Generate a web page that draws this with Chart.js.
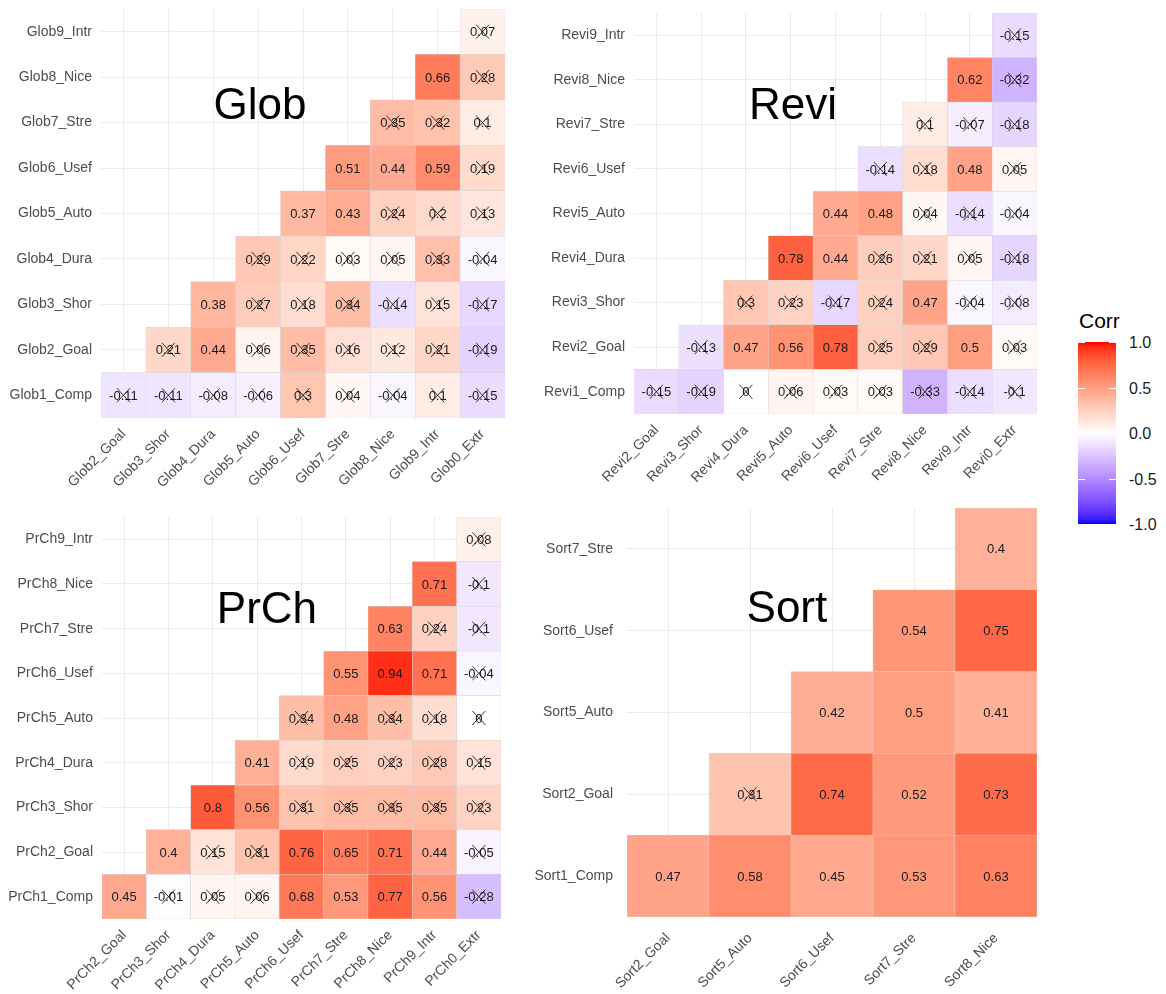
<!DOCTYPE html>
<html>
<head>
<meta charset="utf-8">
<script src="https://cdn.jsdelivr.net/npm/chart.js@4/dist/chart.umd.min.js"></script>
<style>
  body { margin: 0; background: #fff; width: 1166px; height: 994px; position: relative; overflow: hidden;
         font-family: "Liberation Sans", Arial, sans-serif; }
  .panel { position: absolute; }
  #legend { position: absolute; left: 1078px; top: 300px; }
  #legendTitle { position: absolute; left: 1px; top: 9px; font-size: 21px; color: #000; white-space: nowrap; }
  #legendBar { position: absolute; left: 0; top: 42px; width: 38px; height: 182px; }
  .lab { position: absolute; left: 51px; font-size: 16px; color: #1a1a1a; line-height: 16px; white-space: nowrap; }
  .tick { position: absolute; width: 7px; height: 1px; background: #fff; }
</style>
</head>
<body>
<div class="panel" style="left:0;top:0"><canvas id="glob" width="520" height="500"></canvas></div>
<div class="panel" style="left:540px;top:0"><canvas id="revi" width="500" height="500"></canvas></div>
<div class="panel" style="left:0;top:505px"><canvas id="prch" width="520" height="489"></canvas></div>
<div class="panel" style="left:535px;top:495px"><canvas id="sort" width="505" height="499"></canvas></div>
<div id="legend">
  <div id="legendTitle">Corr</div>
  <div id="legendBar"></div>
</div>
<script>
// ---- data: rows are y labels from bottom to top, one entry per x column, null = empty cell
const globCols = ['Glob2_Goal', 'Glob3_Shor', 'Glob4_Dura', 'Glob5_Auto', 'Glob6_Usef', 'Glob7_Stre', 'Glob8_Nice', 'Glob9_Intr', 'Glob0_Extr'];
const globRows = ['Glob1_Comp', 'Glob2_Goal', 'Glob3_Shor', 'Glob4_Dura', 'Glob5_Auto', 'Glob6_Usef', 'Glob7_Stre', 'Glob8_Nice', 'Glob9_Intr'];
const globVals = [
  [-0.11, -0.11, -0.08, -0.06, 0.3, 0.04, -0.04, 0.1, -0.15],
  [null, 0.21, 0.44, 0.06, 0.35, 0.16, 0.12, 0.21, -0.19],
  [null, null, 0.38, 0.27, 0.18, 0.34, -0.14, 0.15, -0.17],
  [null, null, null, 0.29, 0.22, 0.03, 0.05, 0.33, -0.04],
  [null, null, null, null, 0.37, 0.43, 0.24, 0.2, 0.13],
  [null, null, null, null, null, 0.51, 0.44, 0.59, 0.19],
  [null, null, null, null, null, null, 0.35, 0.32, 0.1],
  [null, null, null, null, null, null, null, 0.66, 0.28],
  [null, null, null, null, null, null, null, null, 0.07]
];
// 1 = not significant, crossed out
const globCross = [
  [1, 1, 1, 1, 1, 1, 1, 1, 1],
  [0, 1, 0, 1, 1, 1, 1, 1, 1],
  [0, 0, 0, 1, 1, 1, 1, 1, 1],
  [0, 0, 0, 1, 1, 1, 1, 1, 1],
  [0, 0, 0, 0, 0, 0, 1, 1, 1],
  [0, 0, 0, 0, 0, 0, 0, 0, 1],
  [0, 0, 0, 0, 0, 0, 1, 1, 1],
  [0, 0, 0, 0, 0, 0, 0, 0, 1],
  [0, 0, 0, 0, 0, 0, 0, 0, 1]
];

const reviCols = ['Revi2_Goal', 'Revi3_Shor', 'Revi4_Dura', 'Revi5_Auto', 'Revi6_Usef', 'Revi7_Stre', 'Revi8_Nice', 'Revi9_Intr', 'Revi0_Extr'];
const reviRows = ['Revi1_Comp', 'Revi2_Goal', 'Revi3_Shor', 'Revi4_Dura', 'Revi5_Auto', 'Revi6_Usef', 'Revi7_Stre', 'Revi8_Nice', 'Revi9_Intr'];
const reviVals = [
  [-0.15, -0.19, 0, 0.06, 0.03, 0.03, -0.33, -0.14, -0.1],
  [null, -0.13, 0.47, 0.56, 0.78, 0.25, 0.29, 0.5, 0.03],
  [null, null, 0.3, 0.23, -0.17, 0.24, 0.47, -0.04, -0.08],
  [null, null, null, 0.78, 0.44, 0.26, 0.21, 0.05, -0.18],
  [null, null, null, null, 0.44, 0.48, 0.04, -0.14, -0.04],
  [null, null, null, null, null, -0.14, 0.18, 0.48, 0.05],
  [null, null, null, null, null, null, 0.1, -0.07, -0.18],
  [null, null, null, null, null, null, null, 0.62, -0.32],
  [null, null, null, null, null, null, null, null, -0.15]
];
const reviCross = [
  [1, 1, 1, 1, 1, 1, 1, 1, 1],
  [0, 1, 0, 0, 0, 1, 1, 0, 1],
  [0, 0, 1, 1, 1, 1, 0, 1, 1],
  [0, 0, 0, 0, 0, 1, 1, 1, 1],
  [0, 0, 0, 0, 0, 0, 1, 1, 1],
  [0, 0, 0, 0, 0, 1, 1, 0, 1],
  [0, 0, 0, 0, 0, 0, 1, 1, 1],
  [0, 0, 0, 0, 0, 0, 0, 0, 1],
  [0, 0, 0, 0, 0, 0, 0, 0, 1]
];

const prchCols = ['PrCh2_Goal', 'PrCh3_Shor', 'PrCh4_Dura', 'PrCh5_Auto', 'PrCh6_Usef', 'PrCh7_Stre', 'PrCh8_Nice', 'PrCh9_Intr', 'PrCh0_Extr'];
const prchRows = ['PrCh1_Comp', 'PrCh2_Goal', 'PrCh3_Shor', 'PrCh4_Dura', 'PrCh5_Auto', 'PrCh6_Usef', 'PrCh7_Stre', 'PrCh8_Nice', 'PrCh9_Intr'];
const prchVals = [
  [0.45, -0.01, 0.05, 0.06, 0.68, 0.53, 0.77, 0.56, -0.28],
  [null, 0.4, 0.15, 0.31, 0.76, 0.65, 0.71, 0.44, -0.05],
  [null, null, 0.8, 0.56, 0.31, 0.35, 0.35, 0.35, 0.23],
  [null, null, null, 0.41, 0.19, 0.25, 0.23, 0.28, 0.15],
  [null, null, null, null, 0.34, 0.48, 0.34, 0.18, 0],
  [null, null, null, null, null, 0.55, 0.94, 0.71, -0.04],
  [null, null, null, null, null, null, 0.63, 0.24, -0.1],
  [null, null, null, null, null, null, null, 0.71, -0.1],
  [null, null, null, null, null, null, null, null, 0.08]
];
const prchCross = [
  [0, 1, 1, 1, 0, 0, 0, 0, 1],
  [0, 0, 1, 1, 0, 0, 0, 0, 1],
  [0, 0, 0, 0, 1, 1, 1, 1, 1],
  [0, 0, 0, 0, 1, 1, 1, 1, 1],
  [0, 0, 0, 0, 1, 0, 1, 1, 1],
  [0, 0, 0, 0, 0, 0, 0, 0, 1],
  [0, 0, 0, 0, 0, 0, 0, 1, 1],
  [0, 0, 0, 0, 0, 0, 0, 0, 1],
  [0, 0, 0, 0, 0, 0, 0, 0, 1]
];

const sortCols = ['Sort2_Goal', 'Sort5_Auto', 'Sort6_Usef', 'Sort7_Stre', 'Sort8_Nice'];
const sortRows = ['Sort1_Comp', 'Sort2_Goal', 'Sort5_Auto', 'Sort6_Usef', 'Sort7_Stre'];
const sortVals = [
  [0.47, 0.58, 0.45, 0.53, 0.63],
  [null, 0.31, 0.74, 0.52, 0.73],
  [null, null, 0.42, 0.5, 0.41],
  [null, null, null, 0.54, 0.75],
  [null, null, null, null, 0.4]
];
const sortCross = [
  [0, 0, 0, 0, 0],
  [0, 1, 0, 0, 0],
  [0, 0, 0, 0, 0],
  [0, 0, 0, 0, 0],
  [0, 0, 0, 0, 0]
];

const legendBreaks = [1.0, 0.5, 0.0, -0.5, -1.0];

// ---- blue / white / red gradient, interpolated in Lab like ggplot
const toLin = (c) => { c /= 255; return c <= 0.04045 ? c / 12.92 : Math.pow((c + 0.055) / 1.055, 2.4); };
const fromLin = (c) => {
  c = c <= 0.0031308 ? 12.92 * c : 1.055 * Math.pow(c, 1 / 2.4) - 0.055;
  return Math.round(Math.max(0, Math.min(1, c)) * 255);
};
function rgbToLab([r, g, b]) {
  const R = toLin(r), G = toLin(g), B = toLin(b);
  const x = (0.4124 * R + 0.3576 * G + 0.1805 * B) / 0.95047;
  const y = (0.2126 * R + 0.7152 * G + 0.0722 * B);
  const z = (0.0193 * R + 0.1192 * G + 0.9505 * B) / 1.08883;
  const f = (t) => t > 0.008856 ? Math.cbrt(t) : 7.787 * t + 16 / 116;
  const fx = f(x), fy = f(y), fz = f(z);
  return [116 * fy - 16, 500 * (fx - fy), 200 * (fy - fz)];
}
function labToRgb([L, a, b]) {
  const fy = (L + 16) / 116, fx = fy + a / 500, fz = fy - b / 200;
  const inv = (t) => t * t * t > 0.008856 ? t * t * t : (t - 16 / 116) / 7.787;
  const x = inv(fx) * 0.95047, y = inv(fy), z = inv(fz) * 1.08883;
  const R = 3.2406 * x - 1.5372 * y - 0.4986 * z;
  const G = -0.9689 * x + 1.8758 * y + 0.0415 * z;
  const B = 0.0557 * x - 0.2040 * y + 1.0570 * z;
  return [fromLin(R), fromLin(G), fromLin(B)];
}
const labWhite = rgbToLab([255, 255, 255]);
const labRed = rgbToLab([255, 0, 0]);
const labBlue = rgbToLab([0, 0, 255]);
function corrColor(v) {
  const end = v >= 0 ? labRed : labBlue;
  const t = Math.min(1, Math.abs(v));
  const lab = labWhite.map((w, i) => w + (end[i] - w) * t);
  const [r, g, b] = labToRgb(lab);
  return `rgb(${r},${g},${b})`;
}

// ---- cell labels, crosses and the big panel title
const cellText = {
  id: 'cellText',
  afterDatasetsDraw(chart, args, opts) {
    const ctx = chart.ctx;
    ctx.save();
    ctx.font = '13px "Liberation Sans", Arial, sans-serif';
    ctx.textAlign = 'center';
    ctx.textBaseline = 'middle';
    chart.data.datasets.forEach((ds, di) => {
      const meta = chart.getDatasetMeta(di);
      meta.data.forEach((el, ci) => {
        const v = ds.vals[ci];
        if (v === null) return;
        const cx = el.x, cy = (el.y + el.base) / 2;
        ctx.fillStyle = '#1a1a1a';
        ctx.fillText(String(v), cx, cy + 1);
        if (ds.cross[ci]) {
          ctx.strokeStyle = 'rgba(0,0,0,0.8)';
          ctx.lineWidth = 1;
          ctx.beginPath();
          ctx.moveTo(cx - 6.5, cy - 7); ctx.lineTo(cx + 6.5, cy + 7);
          ctx.moveTo(cx + 6.5, cy - 7); ctx.lineTo(cx - 6.5, cy + 7);
          ctx.stroke();
        }
      });
    });
    const x = chart.scales.x.getPixelForValue(opts.at[0]);
    const y = chart.scales.y.getPixelForValue(opts.at[1]);
    ctx.font = '44px "Liberation Sans", Arial, sans-serif';
    ctx.fillStyle = '#000';
    ctx.textBaseline = 'alphabetic';
    ctx.fillText(opts.text, x, y);
    ctx.restore();
  }
};

const tickFont = { family: '"Liberation Sans", Arial, sans-serif', size: 14 };

function heatmap(id, cols, rows, vals, cross, title, at, axisW, axisH, padTop, padRight, gap) {
  const datasets = rows.map((r, ri) => ({
    label: r,
    data: vals[ri].map((v) => v === null ? null : [ri - 0.5, ri + 0.5]),
    backgroundColor: vals[ri].map((v) => v === null ? 'rgba(0,0,0,0)' : corrColor(v)),
    vals: vals[ri],
    cross: cross[ri],
    borderColor: '#d4d4d4',
    borderWidth: 0.5,
    borderSkipped: false,
    barPercentage: 1,
    categoryPercentage: 1,
    grouped: false
  }));

  new Chart(document.getElementById(id), {
    type: 'bar',
    data: { labels: cols, datasets },
    options: {
      responsive: false,
      animation: false,
      layout: { padding: { top: padTop, right: padRight, left: 0, bottom: 0 } },
      plugins: {
        legend: { display: false },
        tooltip: { enabled: false },
        cellText: { text: title, at }
      },
      scales: {
        x: {
          type: 'category',
          offset: true,
          grid: { offset: false, color: '#ebebeb', lineWidth: 1, drawTicks: false },
          border: { display: false },
          ticks: { autoSkip: false, minRotation: 45, maxRotation: 45, padding: gap, color: '#4d4d4d', font: tickFont },
          afterFit: (s) => { s.height = axisH; s.paddingLeft = 0; s.paddingRight = 0; }
        },
        y: {
          type: 'linear',
          min: -0.5,
          max: rows.length - 0.5,
          afterBuildTicks: (s) => { s.ticks = rows.map((_, i) => ({ value: i })); },
          grid: { color: '#ebebeb', lineWidth: 1, drawTicks: false },
          border: { display: false },
          ticks: { autoSkip: false, padding: gap + 1, color: '#4d4d4d', font: tickFont, callback: (v) => rows[v] },
          afterFit: (s) => { s.width = axisW; s.paddingTop = 0; s.paddingBottom = 0; }
        }
      }
    },
    plugins: [cellText]
  });
}

heatmap('glob', globCols, globRows, globVals, globCross, 'Glob', [3.04, 6.08], 101, 82, 9, 15, 8);
heatmap('revi', reviCols, reviRows, reviVals, reviCross, 'Revi', [3.05, 6.11], 94, 86, 13, 3, 8);
heatmap('prch', prchCols, prchRows, prchVals, prchCross, 'PrCh', [3.22, 6.12], 102, 75, 12, 19, 8);
heatmap('sort', sortCols, sortRows, sortVals, sortCross, 'Sort', [1.45, 3.11], 92, 77, 13, 3, 13);

// ---- colour bar legend
const bar = document.getElementById('legendBar');
const stops = [];
for (let i = 0; i <= 40; i++) {
  const v = 1 - i / 20;
  stops.push(`${corrColor(v)} ${(i / 40 * 100).toFixed(2)}%`);
}
bar.style.background = `linear-gradient(to bottom, ${stops.join(', ')})`;
const legend = document.getElementById('legend');
legendBreaks.forEach((b) => {
  const y = 42 + (1 - b) / 2 * 182;
  const lab = document.createElement('div');
  lab.className = 'lab';
  lab.style.top = (y - 7) + 'px';
  lab.textContent = b.toFixed(1);
  legend.appendChild(lab);
  [0, 31].forEach((x) => {
    const t = document.createElement('div');
    t.className = 'tick';
    t.style.left = x + 'px';
    t.style.top = y + 'px';
    legend.appendChild(t);
  });
});
</script>
</body>
</html>
